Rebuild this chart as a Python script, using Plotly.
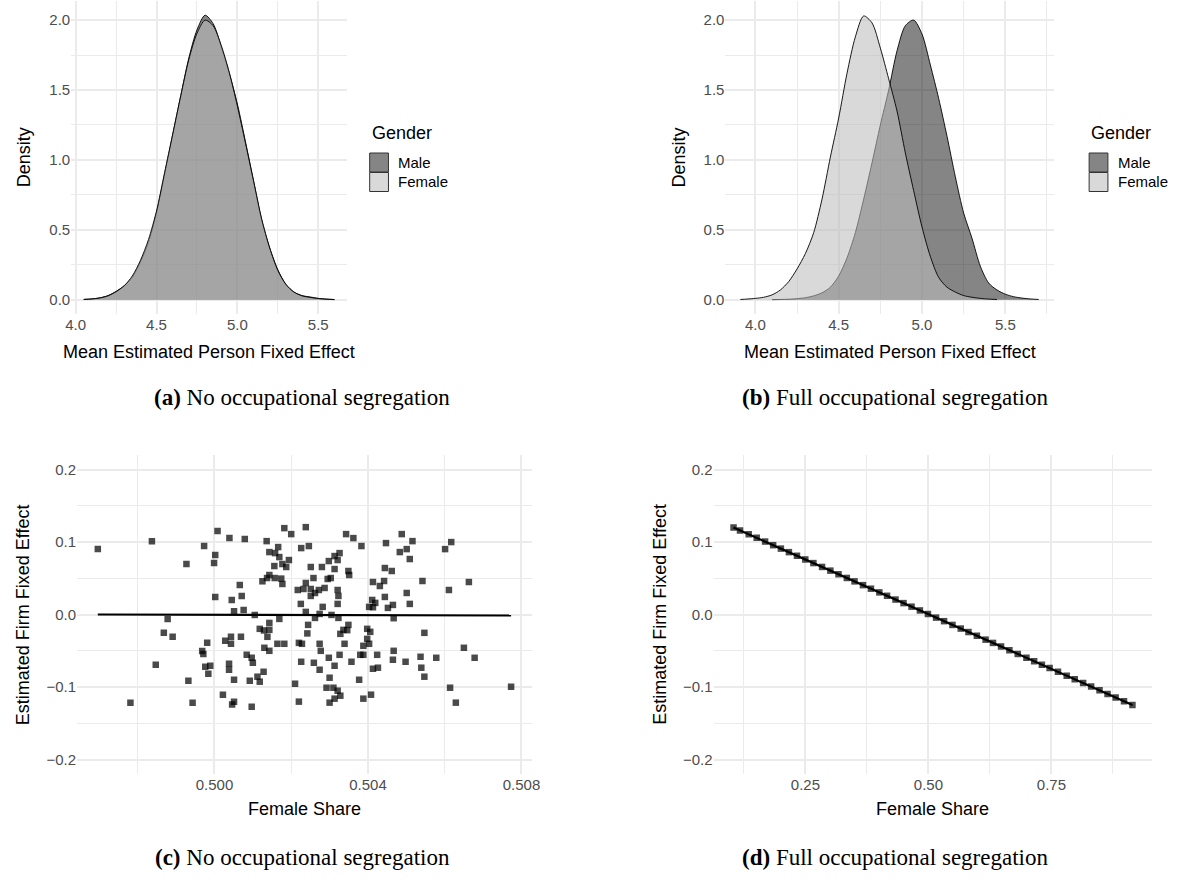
import numpy as np
import plotly.graph_objects as go

W, H = 1193, 882

# ---------------- data ----------------
# (a) No occupational segregation: densities of mean estimated person FE
grid_a = [4.05, 4.10, 4.15, 4.20, 4.25, 4.30, 4.35, 4.40, 4.45, 4.50, 4.55, 4.60,
          4.65, 4.70, 4.75, 4.80, 4.85, 4.90, 4.95, 5.00, 5.05, 5.10, 5.15, 5.20,
          5.25, 5.30, 5.35, 5.40, 5.45, 5.50, 5.55, 5.60]
male_a = [0.003, 0.006, 0.014, 0.030, 0.060, 0.100, 0.160, 0.270, 0.410, 0.625, 0.900, 1.180,
          1.460, 1.730, 1.930, 2.035, 1.975, 1.810, 1.620, 1.400, 1.130, 0.850, 0.570, 0.370,
          0.215, 0.110, 0.055, 0.030, 0.020, 0.010, 0.005, 0.002]
female_a = [0.002, 0.006, 0.013, 0.028, 0.058, 0.100, 0.170, 0.280, 0.430, 0.635, 0.910, 1.185,
            1.460, 1.720, 1.905, 2.000, 1.960, 1.820, 1.625, 1.385, 1.120, 0.850, 0.580, 0.370,
            0.210, 0.110, 0.055, 0.028, 0.017, 0.009, 0.004, 0.001]

# (b) Full occupational segregation
grid_b_female = [3.91, 3.95, 4.00, 4.05, 4.10, 4.15, 4.20, 4.25, 4.30, 4.35, 4.40, 4.45,
                 4.50, 4.55, 4.60, 4.65, 4.70, 4.75, 4.80, 4.85, 4.90, 4.95, 5.00, 5.05,
                 5.10, 5.15, 5.20, 5.25, 5.30, 5.35, 5.40, 5.45]
female_b = [0.002, 0.005, 0.010, 0.018, 0.035, 0.070, 0.130, 0.220, 0.330, 0.480, 0.720, 1.020,
            1.300, 1.620, 1.880, 2.030, 1.980, 1.800, 1.580, 1.350, 1.050, 0.780, 0.520, 0.310,
            0.160, 0.090, 0.055, 0.030, 0.018, 0.010, 0.005, 0.002]
grid_b_male = [4.10, 4.15, 4.20, 4.25, 4.30, 4.35, 4.40, 4.45, 4.50, 4.55, 4.60, 4.65,
               4.70, 4.75, 4.80, 4.85, 4.90, 4.95, 5.00, 5.05, 5.10, 5.15, 5.20, 5.25,
               5.30, 5.35, 5.40, 5.45, 5.50, 5.55, 5.60, 5.65, 5.70]
male_b = [0.001, 0.002, 0.004, 0.008, 0.015, 0.028, 0.050, 0.090, 0.170, 0.300, 0.480, 0.720,
          0.980, 1.250, 1.500, 1.780, 1.960, 2.000, 1.900, 1.680, 1.440, 1.170, 0.880, 0.620,
          0.440, 0.240, 0.120, 0.070, 0.040, 0.022, 0.012, 0.006, 0.002]

# (c) No occupational segregation: firm FE vs female share
share_c = [0.49696, 0.49837, 0.49927, 0.49878, 0.49868, 0.49891, 0.49847, 0.49932, 0.49781, 0.49943,
           0.50008, 0.50039, 0.50079, 0.50136, 0.50182, 0.50200, 0.50238, 0.49973, 0.50226, 0.50246,
           0.50166, 0.50143, 0.50158, 0.50169, 0.50194, 0.50002, 0.49999, 0.50156, 0.50177, 0.50187,
           0.50251, 0.50143, 0.50137, 0.50157, 0.50174, 0.50177, 0.50125, 0.50258, 0.50238, 0.50217,
           0.50232, 0.50251, 0.50262, 0.50251, 0.50066, 0.50002, 0.50071, 0.50045, 0.50051, 0.50076,
           0.50225, 0.50238, 0.50105, 0.50169, 0.50262, 0.50143, 0.50118, 0.50129, 0.50143, 0.50138,
           0.50244, 0.50242, 0.50043, 0.50069, 0.50028, 0.50043, 0.49981, 0.49968, 0.49971, 0.50164,
           0.50182, 0.50220, 0.50228, 0.50130, 0.50143, 0.50084, 0.50097, 0.50100, 0.50038, 0.50038,
           0.49976, 0.49989, 0.49984, 0.50226, 0.50259, 0.50128, 0.50112, 0.50118, 0.50092, 0.50051,
           0.50210, 0.50022, 0.50051, 0.50046, 0.50097, 0.50220,
           0.50343, 0.50362, 0.50383, 0.50447, 0.50488, 0.50516, 0.50501, 0.50483, 0.50509, 0.50326,
           0.50313, 0.50298, 0.50321, 0.50280, 0.50313, 0.50349, 0.50351, 0.50444, 0.50462, 0.50295,
           0.50303, 0.50413, 0.50442, 0.50431, 0.50542, 0.50287, 0.50272, 0.50321, 0.50323, 0.50501,
           0.50444, 0.50321, 0.50282, 0.50411, 0.50419, 0.50403, 0.50413, 0.50465, 0.50452, 0.50509,
           0.50274, 0.50305, 0.50323, 0.50467, 0.50349, 0.50336, 0.50346, 0.50328, 0.50398, 0.50406,
           0.50398, 0.50403, 0.50388, 0.50547, 0.50274, 0.50339, 0.50277, 0.50467, 0.50326, 0.50380,
           0.50388, 0.50424, 0.50298, 0.50357, 0.50465, 0.50498, 0.50537, 0.50313, 0.50274, 0.50413,
           0.50426, 0.50539, 0.50547, 0.50300, 0.50377, 0.50292, 0.50310, 0.50321, 0.50328, 0.50313,
           0.50300, 0.50388, 0.50408,
           0.50617, 0.50601, 0.50663, 0.50611, 0.50650, 0.50578, 0.50678, 0.50614, 0.50773, 0.50629]
firm_fe_c = [0.0902, 0.1012, 0.0696, -0.0061, -0.0253, -0.0308, -0.0693, -0.0913, -0.1216, -0.1216,
             0.1150, 0.1054, 0.1040, 0.1012, 0.1191, 0.1109, 0.1205, 0.0944, 0.0916, 0.0944,
             0.0930, 0.0861, 0.0847, 0.0792, 0.0751, 0.0820, 0.0710, 0.0668, 0.0696, 0.0655,
             0.0655, 0.0545, 0.0503, 0.0503, 0.0495, 0.0421, 0.0458, 0.0503, 0.0435, 0.0338,
             0.0352, 0.0352, 0.0297, 0.0256, 0.0407, 0.0242, 0.0256, 0.0201, 0.0045, 0.0063,
             0.0146, 0.0036, -0.0006, -0.0061, -0.0047, -0.0116, -0.0198, -0.0220, -0.0212, -0.0308,
             -0.0143, -0.0261, -0.0308, -0.0308, -0.0363, -0.0404, -0.0391, -0.0505, -0.0546, -0.0404,
             -0.0404, -0.0391, -0.0404, -0.0459, -0.0501, -0.0556, -0.0597, -0.0666, -0.0680, -0.0762,
             -0.0721, -0.0707, -0.0817, -0.0652, -0.0666, -0.0790, -0.0858, -0.0927, -0.0913, -0.0900,
             -0.0955, -0.1106, -0.1202, -0.1243, -0.1271, -0.1202,
             0.1109, 0.1054, 0.0944, 0.0985, 0.1109, 0.1012, 0.0902, 0.0861, 0.0765, 0.0847,
             0.0806, 0.0737, 0.0751, 0.0655, 0.0627, 0.0600, 0.0545, 0.0641, 0.0600, 0.0490,
             0.0503, 0.0448, 0.0462, 0.0393, 0.0462, 0.0366, 0.0338, 0.0338, 0.0256, 0.0297,
             0.0242, 0.0146, 0.0105, 0.0201, 0.0160, 0.0105, 0.0100, 0.0132, 0.0091, 0.0146,
             0.0008, -0.0006, -0.0047, -0.0051, -0.0143, -0.0212, -0.0216, -0.0267, -0.0198, -0.0239,
             -0.0336, -0.0404, -0.0432, -0.0253, -0.0404, -0.0404, -0.0501, -0.0501, -0.0556, -0.0556,
             -0.0556, -0.0556, -0.0597, -0.0652, -0.0624, -0.0652, -0.0583, -0.0707, -0.0762, -0.0748,
             -0.0734, -0.0734, -0.0858, -0.0872, -0.0900, -0.1010, -0.1010, -0.1051, -0.1120, -0.1161,
             -0.1216, -0.1161, -0.1106,
             0.0999, 0.0902, 0.0448, 0.0338, -0.0459, -0.0597, -0.0597, -0.1010, -0.0996, -0.1216]
# fitted line in (c), as drawn in the chart (nearly flat)
fit_share_c = [0.49696, 0.50773]
fit_fe_c = [0.0000, -0.0014]

# (d) Full occupational segregation
share_d = [0.1040, 0.1171, 0.1348, 0.1511, 0.1681, 0.1845, 0.2002, 0.2165, 0.2329, 0.2498,
           0.2663, 0.2839, 0.3008, 0.3173, 0.3342, 0.3499, 0.3670, 0.3832, 0.4003, 0.4160,
           0.4331, 0.4494, 0.4657, 0.4827, 0.4990, 0.5155, 0.5318, 0.5489, 0.5657, 0.5814,
           0.5985, 0.6162, 0.6313, 0.6476, 0.6646, 0.6815, 0.6992, 0.7149, 0.7306, 0.7463,
           0.7633, 0.7810, 0.7973, 0.8144, 0.8307, 0.8477, 0.8640, 0.8805, 0.8975, 0.9146]
firm_fe_d = [0.1199, 0.1160, 0.1106, 0.1057, 0.1006, 0.0956, 0.0909, 0.0860, 0.0810, 0.0759,
             0.0709, 0.0656, 0.0605, 0.0555, 0.0504, 0.0457, 0.0405, 0.0356, 0.0305, 0.0258,
             0.0206, 0.0157, 0.0108, 0.0056, 0.0007, -0.0043, -0.0092, -0.0144, -0.0194, -0.0242,
             -0.0293, -0.0347, -0.0392, -0.0441, -0.0493, -0.0544, -0.0597, -0.0645, -0.0692, -0.0739,
             -0.0791, -0.0844, -0.0893, -0.0945, -0.0994, -0.1045, -0.1095, -0.1144, -0.1196, -0.1247]

legend_labels = ["Male", "Female"]
captions = [("(a)", "No occupational segregation"), ("(b)", "Full occupational segregation"),
            ("(c)", "No occupational segregation"), ("(d)", "Full occupational segregation")]

# ---------------- styling ----------------
GRID = '#EBEBEB'
SANS = 'Liberation Sans, Arial, sans-serif'
TICKFONT = dict(family=SANS, size=15, color='#4D4D4D')
TITLEFONT = dict(family=SANS, size=18, color='#000000')
MALE_FILL = 'rgba(0,0,0,0.48)'
FEMALE_FILL = 'rgba(189,189,189,0.574)'
PT_COLOR = 'rgba(0,0,0,0.71)'

# panel boxes in pixels: (left, right, top, bottom)
PA = (66, 345, 1, 314)
PB = (728, 1060, 1, 314)
PC = (72, 532, 455, 774)
PD = (716, 1160, 455, 774)
LEG_X = {'a': 368, 'b': 1096}


def fx(p):
    return p / W


def fy(p):
    return 1 - p / H


def expand(lo, hi, m=0.05):
    d = (hi - lo) * m
    return [lo - d, hi + d]


def make_axis(box, horizontal, rng, tick0, dtick, mdtick, fmt, anchor):
    if horizontal:
        dom = [fx(box[0]), fx(box[1])]
    else:
        dom = [fy(box[3]), fy(box[2])]
    return dict(domain=dom, range=rng, anchor=anchor, tickmode='linear', tick0=tick0, dtick=dtick,
                tickformat=fmt, showgrid=True, gridcolor=GRID, gridwidth=1.5,
                minor=dict(tick0=tick0, dtick=mdtick, showgrid=True, gridcolor=GRID, gridwidth=0.75),
                zeroline=False, showline=False, ticks='', tickfont=TICKFONT, fixedrange=True)


fig = go.Figure()


def density(x, y, fill, ax):
    fig.add_trace(go.Scatter(x=x, y=y, mode='lines', fill='tozeroy', fillcolor=fill,
                             line=dict(color='black', width=0.9, shape='spline', smoothing=0.8),
                             xaxis='x' + ax, yaxis='y' + ax, showlegend=False, hoverinfo='skip'))


density(grid_a, male_a, MALE_FILL, '')
density(grid_a, female_a, FEMALE_FILL, '')
density(grid_b_male, male_b, MALE_FILL, '2')
density(grid_b_female, female_b, FEMALE_FILL, '2')


def points(x, y, ax):
    fig.add_trace(go.Scatter(x=x, y=y, mode='markers',
                             marker=dict(symbol='square', size=6.5, color=PT_COLOR, line=dict(width=0)),
                             xaxis='x' + ax, yaxis='y' + ax, showlegend=False, hoverinfo='skip'))


def line(x, y, ax):
    fig.add_trace(go.Scatter(x=x, y=y, mode='lines', line=dict(color='black', width=2.2),
                             xaxis='x' + ax, yaxis='y' + ax, showlegend=False, hoverinfo='skip'))


points(share_c, firm_fe_c, '3')
line(fit_share_c, fit_fe_c, '3')
points(share_d, firm_fe_d, '4')
b1, b0 = np.polyfit(share_d, firm_fe_d, 1)
xs_d = np.array([min(share_d), max(share_d)])
line(xs_d, b0 + b1 * xs_d, '4')

ymax = max(max(male_a), max(female_a), max(male_b), max(female_b))
yr_dens = [-0.05 * ymax, 1.05 * ymax]

fig.update_layout(
    width=W, height=H, autosize=False,
    margin=dict(l=0, r=0, t=0, b=0),
    paper_bgcolor='white', plot_bgcolor='white',
    showlegend=False,
    xaxis=make_axis(PA, True, expand(min(grid_a), max(grid_a)), 4.0, 0.5, 0.25, '.1f', 'y'),
    yaxis=make_axis(PA, False, yr_dens, 0.0, 0.5, 0.25, '.1f', 'x'),
    xaxis2=make_axis(PB, True, expand(min(grid_b_female), max(grid_b_male)), 4.0, 0.5, 0.25, '.1f', 'y2'),
    yaxis2=make_axis(PB, False, yr_dens, 0.0, 0.5, 0.25, '.1f', 'x2'),
    xaxis3=make_axis(PC, True, expand(min(share_c), max(share_c)), 0.5, 0.004, 0.002, '.3f', 'y3'),
    yaxis3=make_axis(PC, False, [-0.22, 0.22], 0.0, 0.1, 0.05, '.1f', 'x3'),
    xaxis4=make_axis(PD, True, expand(min(share_d), max(share_d)), 0.25, 0.25, 0.125, '.2f', 'y4'),
    yaxis4=make_axis(PD, False, [-0.22, 0.22], 0.0, 0.1, 0.05, '.1f', 'x4'),
)

ann = []
shapes = []


def text(x, y, s, font, xanchor='center', yanchor='middle', angle=0):
    ann.append(dict(x=fx(x), y=fy(y), xref='paper', yref='paper', text=s, showarrow=False,
                    font=font, xanchor=xanchor, yanchor=yanchor, textangle=angle))


# density panels: axis titles and legends
for box, key in ((PA, 'a'), (PB, 'b')):
    text((box[0] + box[1]) / 2, 352, 'Mean Estimated Person Fixed Effect', TITLEFONT)
    text(box[0] - 48, (box[2] + box[3]) / 2, 'Density', TITLEFONT, angle=-90)
    lx = LEG_X[key]
    text(lx, 133, 'Gender', TITLEFONT, xanchor='left')
    for i, (lab, col) in enumerate(zip(legend_labels, ['#858585', '#D9D9D9'])):
        top = 153 + i * 19.5
        shapes.append(dict(type='rect', xref='paper', yref='paper', x0=fx(lx), x1=fx(lx + 19),
                           y0=fy(top + 19), y1=fy(top), fillcolor=col,
                           line=dict(color='#333333', width=1)))
        text(lx + 27, top + 9.5, lab, dict(family=SANS, size=15, color='black'), xanchor='left')

# scatter panels: axis titles
for box in (PC, PD):
    text((box[0] + box[1]) / 2, 809, 'Female Share', TITLEFONT)
    text(box[0] - 55, (box[2] + box[3]) / 2, 'Estimated Firm Fixed Effect', TITLEFONT, angle=-90)

# captions
SERIF = dict(family='Liberation Serif, Times New Roman, serif', size=23, color='black')
cap_pos = [(300, 397), (900, 397), (300, 857), (900, 857)]
for (lab, txt), (cx, cy) in zip(captions, cap_pos):
    text(cx, cy, '<b>' + lab + '</b> ' + txt, SERIF)

fig.update_layout(annotations=ann, shapes=shapes)
fig.write_html('out.html')
